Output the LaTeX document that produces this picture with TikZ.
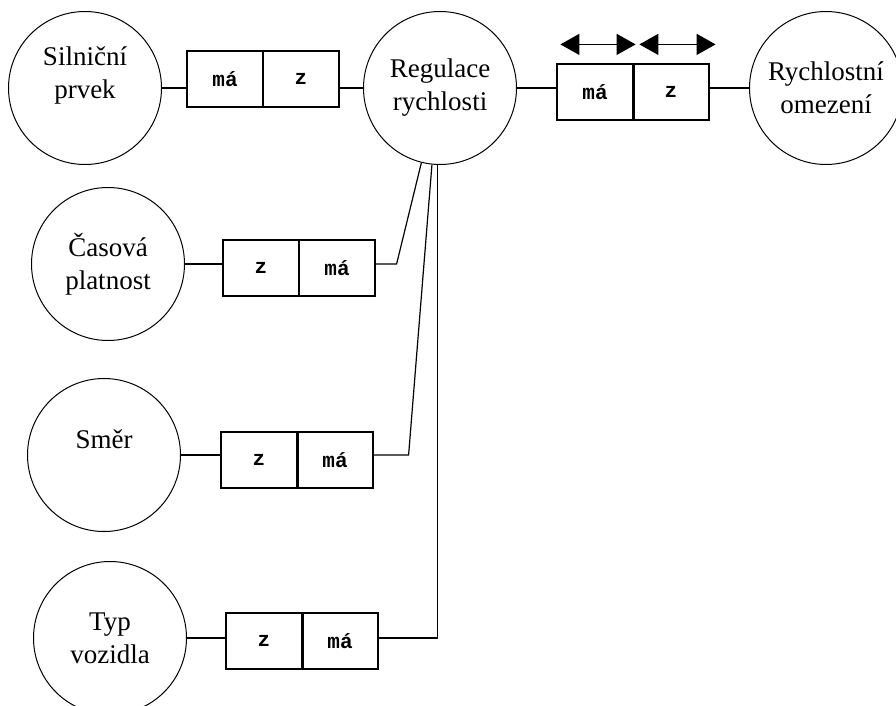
\documentclass[tikz,border=0pt]{standalone}
\usepackage{fontspec}
\setmainfont{Liberation Serif}
\newfontfamily\cellfont{Liberation Mono}
\usetikzlibrary{positioning,arrows.meta}

\begin{document}
\begin{tikzpicture}[on grid,node distance=76pt,
	entity/.style={circle,draw,line width=1pt,minimum size=153pt,inner sep=0pt,align=center,font=\fontsize{27pt}{33pt}\selectfont},
	cell/.style={rectangle,draw,line width=1.2pt,minimum width=76pt,minimum height=56pt,inner sep=0pt,font=\cellfont\bfseries\fontsize{21pt}{24pt}\selectfont},
	link/.style={line width=1.2pt},
	split/.style={line width=3pt},
	dir/.style={line width=1.2pt,{Triangle[length=19pt,width=21pt]}-{Triangle[length=19pt,width=21pt]}}]
	\useasboundingbox (0,0) rectangle (896pt,-706pt);
	\node[entity,text depth=30pt] (sil) at (85pt,-88pt) {Silniční\\prvek};
	\node[entity] (reg) [right=355pt of sil] {Regulace\\rychlosti};
	\node[entity] (rom) [right=386pt of reg] {Rychlostní\\omezení};
	\node[entity] (cas) [below right=176pt and 23pt of sil] {Časová\\platnost};
	\node[entity,text depth=32pt] (smer) [below right=367pt and 19pt of sil] {Směr};
	\node[entity] (typ) [below right=550pt and 25pt of sil] {Typ\\vozidla};
	\node[cell] (b1l) [above right=9pt and 140pt of sil] {má};
	\node[cell] (b1r) [right=of b1l] {z};
	\node[cell] (b2l) [below right=4pt and 155pt of reg] {má};
	\node[cell] (b2r) [right=of b2l] {z};
	\node[cell] (b3l) [below right=4pt and 153pt of cas] {z};
	\node[cell] (b3r) [right=of b3l] {má};
	\node[cell] (b4l) [below right=5pt and 155pt of smer] {z};
	\node[cell] (b4r) [right=of b4l] {má};
	\node[cell] (b5l) [below right=3pt and 154pt of typ] {z};
	\node[cell] (b5r) [right=of b5l] {má};
	\foreach \b in {b2l,b4l,b5l}
		\draw[split] (\b.north east) -- (\b.south east);
	\draw[link] (sil.east) -- (sil.east -| b1l.west);
	\draw[link] (b1r.east |- reg.west) -- (reg.west);
	\draw[link] (reg.east) -- (reg.east -| b2l.west);
	\draw[link] (b2r.east |- rom.west) -- (rom.west);
	\draw[link] (cas.east) -- (cas.east -| b3l.west);
	\draw[link] (b3r.east |- cas.east) -- ++(21pt,0) -- (reg.256);
	\draw[link] (smer.east) -- (smer.east -| b4l.west);
	\draw[link] (b4r.east |- smer.east) -- ++(35pt,0) -- (reg.264);
	\draw[link] (typ.east) -- (typ.east -| b5l.west);
	\draw[link] (b5r.east |- typ.east) -| (reg.268);
	\draw[dir] ([xshift=4pt,yshift=19pt]b2l.north west) -- ([xshift=2pt,yshift=19pt]b2l.north east);
	\draw[dir] ([xshift=7pt,yshift=19pt]b2r.north west) -- ([xshift=6pt,yshift=19pt]b2r.north east);
\end{tikzpicture}
\end{document}
